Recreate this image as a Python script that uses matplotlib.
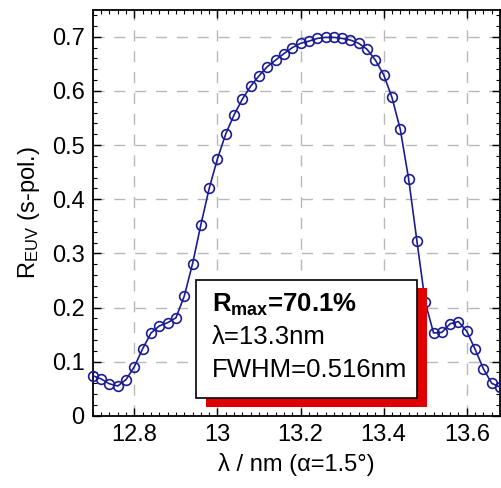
import numpy as np
import matplotlib
matplotlib.use('Agg')
import matplotlib.pyplot as plt
import matplotlib.ticker as ticker
from matplotlib.patches import Rectangle

plt.rcParams['font.family'] = ['Liberation Sans', 'DejaVu Sans']
plt.rcParams['mathtext.fontset'] = 'custom'
plt.rcParams['mathtext.rm'] = 'Liberation Sans'
plt.rcParams['mathtext.it'] = 'Liberation Sans:italic'
plt.rcParams['mathtext.bf'] = 'Liberation Sans:bold'

# wavelength (nm) and s-pol reflectivity
wavelength = [12.70, 12.72, 12.74, 12.76, 12.78, 12.80, 12.82, 12.84, 12.86, 12.88,
              12.90, 12.92, 12.94, 12.96, 12.98, 13.00, 13.02, 13.04, 13.06, 13.08,
              13.10, 13.12, 13.14, 13.16, 13.18, 13.20, 13.22, 13.24, 13.26, 13.28,
              13.30, 13.32, 13.34, 13.36, 13.38, 13.40, 13.42, 13.44, 13.46, 13.48,
              13.50, 13.52, 13.54, 13.56, 13.58, 13.60, 13.62, 13.64, 13.66, 13.68]
reflectivity = [0.074, 0.068, 0.059, 0.055, 0.067, 0.091, 0.124, 0.153, 0.166, 0.172,
                0.181, 0.221, 0.281, 0.353, 0.420, 0.475, 0.521, 0.556, 0.585, 0.609,
                0.628, 0.645, 0.657, 0.669, 0.680, 0.688, 0.692, 0.697, 0.699, 0.699,
                0.697, 0.694, 0.688, 0.677, 0.657, 0.630, 0.588, 0.529, 0.438, 0.323,
                0.210, 0.153, 0.154, 0.170, 0.174, 0.156, 0.123, 0.087, 0.060, 0.053]

x_ticks = [12.8, 13.0, 13.2, 13.4, 13.6]
x_ticklabels = ['12.8', '13', '13.2', '13.4', '13.6']
y_ticks = [0, 0.1, 0.2, 0.3, 0.4, 0.5, 0.6, 0.7]
y_ticklabels = ['0', '0.1', '0.2', '0.3', '0.4', '0.5', '0.6', '0.7']

fig = plt.figure(figsize=(5.02, 4.88), dpi=100)
ax = fig.add_axes([0.185, 0.148, 0.811, 0.832])

ax.plot(wavelength, reflectivity, '-', color='#1c1c94', linewidth=1.2,
        marker='o', markerfacecolor='none', markeredgecolor='#1c1c94',
        markeredgewidth=1.2, markersize=7, clip_on=False, zorder=3)

ax.set_xlim(12.7, 13.68)
ax.set_ylim(0, 0.75)
ax.set_xticks(x_ticks)
ax.set_xticklabels(x_ticklabels)
ax.set_yticks(y_ticks)
ax.set_yticklabels(y_ticklabels)
ax.xaxis.set_minor_locator(ticker.MultipleLocator(0.02))
ax.yaxis.set_minor_locator(ticker.MultipleLocator(0.02))
ax.tick_params(which='both', direction='in', top=True, right=True, labelsize=17, pad=6)
ax.tick_params(which='major', length=6, width=1.0)
ax.tick_params(which='minor', length=3, width=0.8)
for s in ax.spines.values():
    s.set_linewidth(1.3)

ax.grid(True, which='major', color='#b8b8b8', linestyle=(0, (8, 7)), linewidth=1.0)
ax.set_axisbelow(True)

ax.set_xlabel(u'\u03bb / nm (\u03b1=1.5\u00b0)', fontsize=17, labelpad=5)
ax.set_ylabel(r'R$_{\mathrm{EUV}}$ (s-pol.)', fontsize=17, labelpad=7)

# info box with red shadow
ax.add_patch(Rectangle((0.278, 0.022), 0.543, 0.293, transform=ax.transAxes,
                       facecolor='#e00000', edgecolor='none', zorder=4))
ax.add_patch(Rectangle((0.253, 0.044), 0.543, 0.291, transform=ax.transAxes,
                       facecolor='white', edgecolor='black', linewidth=1.2, zorder=5))
ax.text(0.293, 0.272, r'R$_{\mathbf{max}}$=70.1%', transform=ax.transAxes,
        fontsize=18.5, fontweight='bold', va='center', ha='left', zorder=6)
ax.text(0.293, 0.195, u'\u03bb=13.3nm', transform=ax.transAxes,
        fontsize=18.5, va='center', ha='left', zorder=6)
ax.text(0.293, 0.113, 'FWHM=0.516nm', transform=ax.transAxes,
        fontsize=18.5, va='center', ha='left', zorder=6)

fig.savefig('out.png', dpi=100)
